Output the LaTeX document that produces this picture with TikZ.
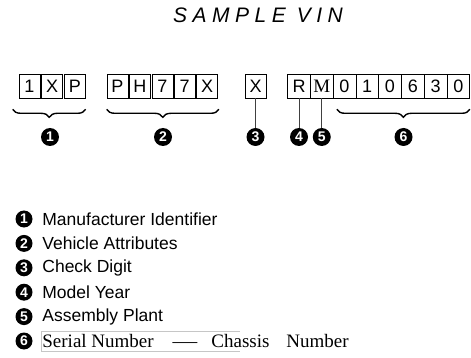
\documentclass[tikz,border=0pt]{standalone}
\usepackage{fontspec}
\setmainfont{Liberation Serif}
\setsansfont{Liberation Sans}
\usetikzlibrary{positioning,calc,decorations.pathreplacing}

\begin{document}
\begin{tikzpicture}[
  x=1pt, y=-1pt,
  chr/.style={draw=black, line width=0.6pt, minimum width=21pt, minimum height=24pt, inner sep=0pt, font=\sffamily\fontsize{18}{18}\selectfont},
  ser/.style={chr, minimum width=22.75pt},
  num/.style={circle, fill=black, minimum size=18pt, inner sep=0pt, text=white, font=\sffamily\bfseries\fontsize{14}{14}\selectfont},
  brc/.style={decorate, decoration={brace, mirror, amplitude=8pt}, line width=1.4pt},
  lead/.style={line width=0.6pt, black!75},
  lgd/.style={anchor=west, inner sep=0pt, font=\sffamily\fontsize{17.5}{17.5}\selectfont},
]
\useasboundingbox (0,0) rectangle (471,358);
\def\yb{86} \def\yn{137}
% title
\node[font=\sffamily\itshape\fontsize{21}{21}\selectfont] (ttl) at (258,15) {S\kern5.5pt A\kern5.5pt M\kern5.5pt P\kern5.5pt L\kern5.5pt E\kern11pt V\kern5.5pt I\kern5.5pt N};
% ---- world manufacturer ----
\foreach \c [count=\i] in {1,X,P} \node[chr] (w\i) at (29.5+\i*22.7-22.7,\yb) {\c};
% ---- vehicle attributes ----
\foreach \c [count=\i] in {P,H,7,7,X} \node[chr] (v\i) at (117.5+\i*22.4-22.4,\yb) {\c};
% ---- check digit ----
\node[chr] (cd) at (255.5,\yb) {X};
% ---- year, plant, serial ----
\node[ser] (s1) at (299,\yb) {R};
\node[ser, font=\rmfamily\fontsize{19}{19}\selectfont] (s2) at (321.75,\yb) {M};
\foreach \c [count=\i from 3] in {0,1,0,6,3,0} \node[ser] (s\i) at (299+\i*22.75-22.75,\yb) {\c};
% braces
\draw[brc] ($(w1.south west)+(-6,11)$) -- ($(w3.south east)+(0,11)$);
\draw[brc] ($(v1.south west)+(0,11)$) -- ($(v5.south east)+(1,11)$);
\draw[brc] ($(s3.south west)+(4,11)$) -- ($(s8.south east)+(0,11)$);
% numbers
\node[num] (n1) at (50,\yn) {1};
\node[num] (n2) at (163,\yn) {2};
\node[num] (n3) at (cd.south |- 0,\yn) {3};
\node[num] (n4) at (s1.south |- 0,\yn) {4};
\node[num] (n5) at (s2.south |- 0,\yn) {5};
\node[num] (n6) at (403.5,\yn) {6};
\draw[lead] (cd.south) -- (n3);
\draw[lead] (s1.south) -- (n4);
\draw[lead] (s2.south) -- (n5);
% legend
\foreach \t [count=\i] in {Manufacturer Identifier,Vehicle Attributes,Check Digit,Model Year,Assembly Plant}{
  \node[num, minimum size=17pt] (k\i) at (24,194.6+\i*24.4) {\i};
  \node[lgd, right=9.5pt of k\i] (l\i) {\t};
}
\node[num, minimum size=17pt] (k6) at (24,341) {6};
\node[lgd, font=\rmfamily\fontsize{19}{19}\selectfont, right=9.5pt of k6] (l6) {Serial Number\hspace{19pt}\scalebox{1.3}[1]{—}\hspace{14pt}Chassis\hspace{17pt}Number};
\draw[gray!45] ($(l6.west)+(-1,-10)$) -- ++(199,0) ($(l6.west)+(-1,-10)$) -- ++(0,20) -- ++(199,0);
\end{tikzpicture}
\end{document}
